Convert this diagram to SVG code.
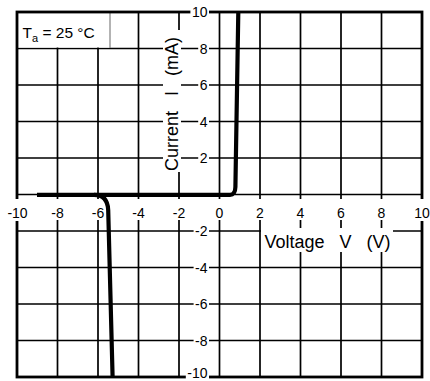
<svg xmlns="http://www.w3.org/2000/svg" width="430" height="381" viewBox="0 0 430 381">
<style>
.grid{stroke:#000;stroke-width:1.7;fill:none}
.border{stroke:#000;stroke-width:2.8;fill:none}
.bg{fill:#fff;stroke:none}
.tick{font-family:"Liberation Sans",Arial,sans-serif;font-size:14px;fill:#000}
.axis{font-family:"Liberation Sans",Arial,sans-serif;font-size:18px;fill:#000}
.curve{stroke:#000;stroke-width:4.2;fill:none;stroke-linejoin:round}
</style>
<rect width="430" height="381" fill="#fff"/>
<g id="grid">
<path class="grid" d="M57.5,12V377M98,12V377M138.5,12V377M179,12V377M219.5,12V377M260,12V377M300.5,12V377M341,12V377M381.5,12V377"/>
<path class="grid" d="M17,48.5H422M17,85H422M17,121.5H422M17,158H422M17,194.5H422M17,231H422M17,267.5H422M17,304H422M17,340.5H422"/>
</g>
<g id="legend">
<rect class="bg" x="17" y="12" width="93" height="35.5"/>
<path d="M110,12V48" stroke="#808080" stroke-width="1.2"/>
<text class="tick" x="22.5" y="38" style="font-size:15.5px">T<tspan dy="4" style="font-size:11px">a</tspan><tspan dy="-4"> = 25 °C</tspan></text>
</g>
<g id="frame">
<rect class="border" x="17" y="12" width="405" height="365"/>
</g>
<g id="x-ticks">
<rect class="bg" x="6.4" y="199" width="22.2" height="22"/>
<rect class="bg" x="50.3" y="199" width="14.4" height="21"/>
<rect class="bg" x="90.8" y="199" width="14.4" height="21"/>
<rect class="bg" x="131.3" y="199" width="14.4" height="21"/>
<rect class="bg" x="171.8" y="199" width="14.4" height="21"/>
<rect class="bg" x="214.6" y="199" width="9.8" height="21"/>
<rect class="bg" x="255.1" y="199" width="9.8" height="21"/>
<rect class="bg" x="295.6" y="199" width="9.8" height="21"/>
<rect class="bg" x="336.1" y="199" width="9.8" height="21"/>
<rect class="bg" x="376.6" y="199" width="9.8" height="21"/>
<rect class="bg" x="413.2" y="199" width="17.6" height="22"/>
<g class="tick" text-anchor="middle">
<text x="17.5" y="218">-10</text>
<text x="57.5" y="218">-8</text>
<text x="98" y="218">-6</text>
<text x="138.5" y="218">-4</text>
<text x="179" y="218">-2</text>
<text x="219.5" y="218">0</text>
<text x="260" y="218">2</text>
<text x="300.5" y="218">4</text>
<text x="341" y="218">6</text>
<text x="381.5" y="218">8</text>
<text x="422" y="218">10</text>
</g>
</g>
<g id="y-ticks">
<rect class="bg" x="190.4" y="5" width="18.6" height="14"/>
<rect class="bg" x="198.2" y="41.5" width="10.8" height="14"/>
<rect class="bg" x="198.2" y="78" width="10.8" height="14"/>
<rect class="bg" x="198.2" y="114.5" width="10.8" height="14"/>
<rect class="bg" x="198.2" y="151" width="10.8" height="14"/>
<rect class="bg" x="193.6" y="224" width="15.4" height="14"/>
<rect class="bg" x="193.6" y="260.5" width="15.4" height="14"/>
<rect class="bg" x="193.6" y="297" width="15.4" height="14"/>
<rect class="bg" x="193.6" y="333.5" width="15.4" height="14"/>
<rect class="bg" x="185.8" y="368" width="23.2" height="13"/>
<g class="tick" text-anchor="end">
<text x="207.5" y="17">10</text>
<text x="207.5" y="53.5">8</text>
<text x="207.5" y="90">6</text>
<text x="207.5" y="126.5">4</text>
<text x="207.5" y="163">2</text>
<text x="207.5" y="236">-2</text>
<text x="207.5" y="272.5">-4</text>
<text x="207.5" y="309">-6</text>
<text x="207.5" y="345.5">-8</text>
<text x="207.5" y="378.3">-10</text>
</g>
</g>
<g id="axis-labels">
<rect class="bg" x="163" y="30" width="18" height="142"/>
<text class="axis" xml:space="preserve" transform="translate(178,171) rotate(-90)">Current   I   (mA)</text>
<rect class="bg" x="261" y="228" width="132" height="24"/>
<text class="axis" xml:space="preserve" x="264.5" y="248">Voltage   V   (V)</text>
</g>
<g id="connectors">
<path class="curve" d="M37,194.8H230Q235.2,194.8 235.4,187L238.3,12"/>
<path class="curve" d="M94,194.8Q107.6,194.8 108.2,210L112.6,377"/>
</g>
</svg>
